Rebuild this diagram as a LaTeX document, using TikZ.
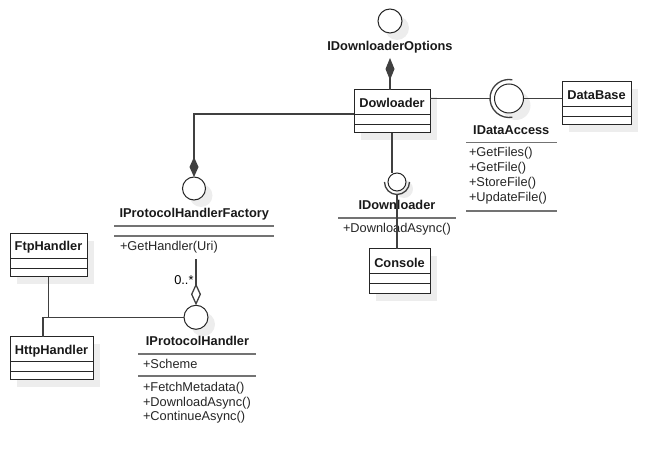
\documentclass[tikz,border=0pt]{standalone}
\usepackage{fontspec}
\setmainfont{Liberation Sans}
\usetikzlibrary{arrows.meta,shadows}
\begin{document}
\begin{tikzpicture}[x=1pt,y=-1pt,
  every node/.style={inner sep=0pt, outer sep=0pt, font=\fontsize{12.8}{15}\selectfont},
  title/.style={font=\fontsize{12.8}{15}\selectfont\bfseries, anchor=base, text=black!90},
  member/.style={anchor=base west, text=black!85},
  conn/.style={draw=black!75, line width=1.3pt},
  sep/.style={draw=black!55, line width=1.4pt},
  shad/.style={drop shadow={shadow xshift=7pt, shadow yshift=-7pt, fill=black, opacity=0.07}},
  classbox/.style={rectangle, draw=black!85, line width=1pt, fill=white, shad,
    path picture={
      \draw[black!85, line width=1pt]
        ([yshift=-25pt]path picture bounding box.north west) -- ([yshift=-25pt]path picture bounding box.north east)
        ([yshift=-34.5pt]path picture bounding box.north west) -- ([yshift=-34.5pt]path picture bounding box.north east);}},
  iface/.style={circle, draw=black!85, line width=1pt, fill=white, shad},
]
\useasboundingbox[fill=white] (0,0) rectangle (670,470);

% class boxes
\node[classbox, minimum width=76pt, minimum height=43pt] (dl) at (392,111.5) {};
\node[title] (dlname) at (392,107.3) {Dowloader};
\node[classbox, minimum width=69pt, minimum height=43pt] (db) at (596.5,103.5) {};
\node[title] (dbname) at (596.5,99.3) {DataBase};
\node[classbox, minimum width=61pt, minimum height=45pt] (con) at (399.5,271.5) {};
\node[title] (conname) at (399.5,267.7) {Console};
\node[classbox, minimum width=77pt, minimum height=43pt] (ftp) at (48.5,255.5) {};
\node[title] (ftpname) at (48.5,251) {FtpHandler};
\node[classbox, minimum width=83pt, minimum height=43pt] (http) at (51.5,358.5) {};
\node[title] (httpname) at (51.5,355) {HttpHandler};

% interfaces
\node[iface, minimum size=24pt] (opt) at (390,21) {};
\node[title] (optname) at (390,50.5) {IDownloaderOptions};

\node[iface, minimum size=23pt] (fc) at (194,188.5) {};
\node[title] (fcname) at (194.3,218) {IProtocolHandlerFactory};
\coordinate (fcs1a) at (114,226); \coordinate (fcs1b) at (274,226);
\coordinate (fcs2a) at (114,236); \coordinate (fcs2b) at (274,236);
\draw[sep] (fcs1a) -- (fcs1b) (fcs2a) -- (fcs2b);
\node[member] (fcm1) at (120,250.5) {+GetHandler(Uri)};

\node[iface, minimum size=24pt] (ph) at (196,317.3) {};
\node[title] (phname) at (197.5,346) {IProtocolHandler};
\coordinate (phs1a) at (138,354); \coordinate (phs1b) at (256,354);
\coordinate (phs2a) at (138,376); \coordinate (phs2b) at (256,376);
\draw[sep] (phs1a) -- (phs1b) (phs2a) -- (phs2b);
\node[member] (pha1) at (143,369) {+Scheme};
\node[member] (phm1) at (143,391.5) {+FetchMetadata()};
\node[member] (phm2) at (143,406.2) {+DownloadAsync()};
\node[member] (phm3) at (143,420.9) {+ContinueAsync()};

\node[iface, minimum size=18pt] (idl) at (397,182) {};
\node[title] (idlname) at (397,210) {IDownloader};
\coordinate (idls1a) at (338,218); \coordinate (idls1b) at (456,218);
\draw[sep] (idls1a) -- (idls1b);
\node[member] (idlm1) at (343,233) {+DownloadAsync()};

\node[iface, minimum size=29pt] (ida) at (509,98.5) {};
\node[title] (idaname) at (511.3,135) {IDataAccess};
\coordinate (idas1a) at (466,142.7); \coordinate (idas1b) at (557,142.7);
\coordinate (idas2a) at (466,211); \coordinate (idas2b) at (557,211);
\draw[sep] (idas1a) -- (idas1b) (idas2a) -- (idas2b);
\node[member] (idam1) at (469,157) {+GetFiles()};
\node[member] (idam2) at (469,172) {+GetFile()};
\node[member] (idam3) at (469,187) {+StoreFile()};
\node[member] (idam4) at (469,202) {+UpdateFile()};

% connectors
\coordinate (optd) at (390,58);
\draw[conn, -{Diamond[length=22pt,width=9pt]}] (opt |- dl.north) -- (optd);

\draw[conn, -{Diamond[length=20pt,width=9pt]}] ([yshift=-2.5pt]dl.west) -| (fc.north);

\coordinate (fcb) at (196,259.5);
\draw[conn, -{Diamond[open,length=22pt,width=10pt]}] (fcb) -- (ph.north);
\node[anchor=base east] (mult) at (193.5,285) {0..*};

\draw[conn] (ftp.south) -- (ftp.south |- ph.west);
\draw[conn] ([xshift=-8.5pt]http.north) |- (ph.west);

\coordinate (idaL) at ([xshift=-19pt]ida.center);
\draw[conn] ([yshift=13pt]dl.east) -- (idaL);
\draw[conn] ([shift={(80:19pt)}]ida.center) arc[start angle=80, end angle=280, radius=19pt];
\draw[conn] (ida.east) -- (ida.east -| db.west);

\draw[conn] (dl.south) -- (dl.south |- idl.north);
\draw[conn] ([shift={(180:12.5pt)}]idl.center) arc[start angle=180, end angle=360, radius=12.5pt];
\draw[conn] ([yshift=-12.5pt]idl.center) -- (idl.center |- con.north);
\end{tikzpicture}
\end{document}
